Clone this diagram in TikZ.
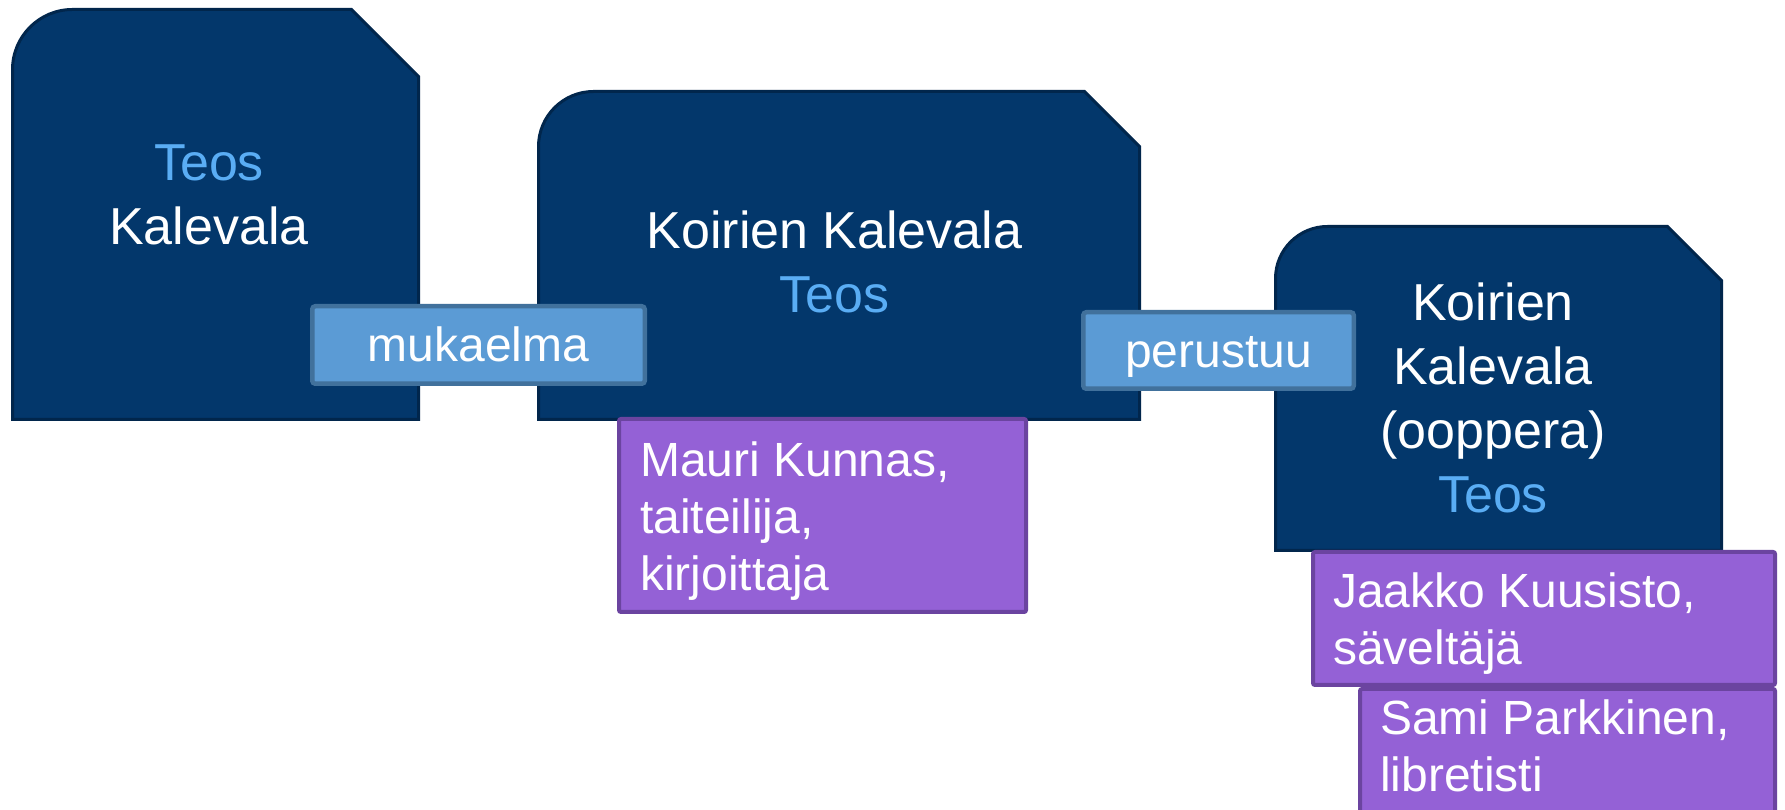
\documentclass[tikz,border=0pt]{standalone}
\usepackage{fontspec}
\setmainfont{Liberation Sans}
\definecolor{darkfill}{HTML}{03376B}
\definecolor{darkline}{HTML}{01264C}
\definecolor{teos}{HTML}{5AADF4}
\definecolor{lblfill}{HTML}{5B9BD5}
\definecolor{lblline}{HTML}{41719C}
\definecolor{purfill}{HTML}{9461D6}
\definecolor{purline}{HTML}{6B44A0}
\begin{document}
\begin{tikzpicture}[x=1pt,y=1pt,
 darkshape/.style={fill=darkfill,draw=darkline,line width=3pt,line join=miter},
 darktext/.style={text=white,font=\fontsize{52}{64}\selectfont,align=center,inner sep=0pt,anchor=base},
 relbox/.style={fill=lblfill,draw=lblline,line width=4.5pt,rounded corners=3pt,text=white,font=\fontsize{48}{57}\selectfont,inner sep=0pt,text height=34pt,text depth=0pt},
 persbox/.style={fill=purfill,draw=purline,line width=4pt,rounded corners=2pt,inner sep=0pt},
 perstext/.style={text=white,font=\fontsize{48}{57}\selectfont,align=left,inner sep=0pt,anchor=base west}]
\clip (0,0) rectangle (1785,810);
\fill[white] (0,0) rectangle (1785,810);
% dark work shapes
\draw[darkshape] (12.5,390.5) -- (12.5,740.5) arc[start angle=180,end angle=90,radius=60] -- (351.5,800.5) -- (418.5,733.5) -- (418.5,390.5) -- cycle;
\draw[darkshape] (538.5,390.5) -- (538.5,663.5) arc[start angle=180,end angle=90,radius=55] -- (1084.5,718.5) -- (1139.5,663.5) -- (1139.5,390.5) -- cycle;
\draw[darkshape] (1275.5,259.5) -- (1275.5,531.5) arc[start angle=180,end angle=90,radius=52] -- (1667.5,583.5) -- (1721.5,529.5) -- (1721.5,259.5) -- cycle;
\node[darktext] (w1) at (209,565) {{\color{teos}Teos}\\Kalevala};
\node[darktext] (w2) at (834.5,497) {Koirien Kalevala\\{\color{teos}Teos}};
\node[darktext] (w3) at (1493,297) {Koirien\\Kalevala\\(ooppera)\\{\color{teos}Teos}};
% relation labels
\node[relbox,minimum width=332.5pt,minimum height=77.5pt] (r1) at (478.5,465) {mukaelma};
\node[relbox,minimum width=270.5pt,minimum height=76.5pt] (r2) at (1218.5,459.5) {perustuu};
% persons
\node[persbox,minimum width=407pt,minimum height=193pt] (p1) at (822.5,294.5) {};
\node[perstext] (p1t) at (640,219) {Mauri Kunnas,\\taiteilija,\\kirjoittaja};
\node[persbox,minimum width=415pt,minimum height=159pt] (p3) at (1567.5,41.5) {};
\node[persbox,minimum width=462pt,minimum height=133pt] (p2) at (1544,191.5) {};
\node[perstext] (p2t) at (1333,145) {Jaakko Kuusisto,\\säveltäjä};
\node[perstext] (p3t) at (1380,18) {Sami Parkkinen,\\libretisti};
\end{tikzpicture}
\end{document}
